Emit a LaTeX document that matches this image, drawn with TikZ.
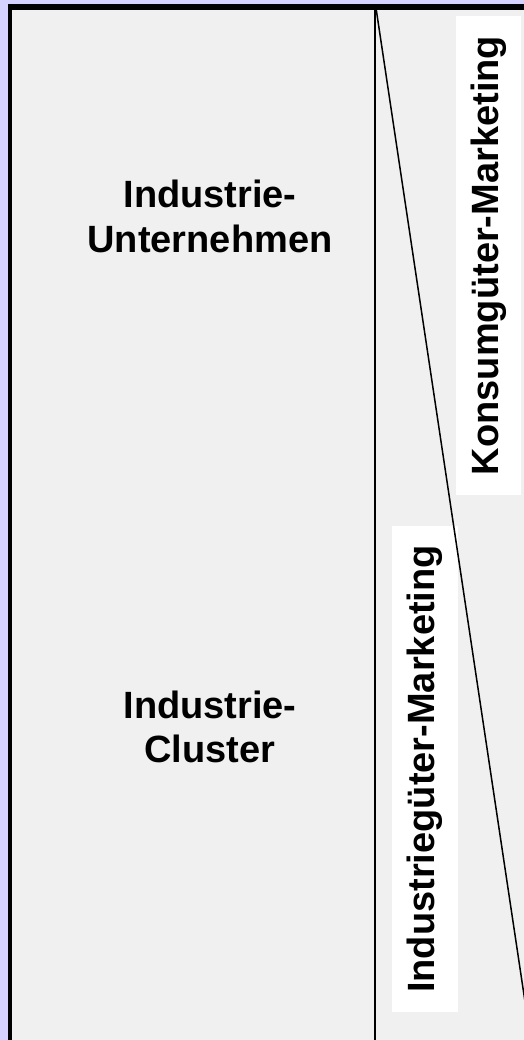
\documentclass[tikz,border=0pt]{standalone}
\usepackage{fontspec}
\setmainfont{Liberation Sans}
\definecolor{bglav}{RGB}{213,210,255}
\definecolor{panelgray}{RGB}{240,240,240}
\begin{document}
\begin{tikzpicture}[x=1pt,y=-1pt,
  lbl/.style={font=\bfseries\fontsize{38}{45}\selectfont, inner sep=0pt, anchor=base},
  vlabel/.style={fill=white, rotate=90, inner sep=0pt, font=\bfseries\fontsize{38}{45}\selectfont},
  rule/.style={line width=1.5pt, black}]
\useasboundingbox (0,0) rectangle (524,1040);
\fill[bglav] (0,0) rectangle (524,1040);
\begin{scope}
  \clip (0,0) rectangle (524,1040);
  \fill[black] (8,4) rectangle (540,1060);
  \fill[panelgray] (12,10) rectangle (540,1060);
  \node[vlabel, minimum width=479pt, minimum height=65pt] (konsum) at (488.5,255.5) {Konsumgüter-Marketing};
  \node[vlabel, minimum width=486pt, minimum height=66pt] (indust) at (425,769) {Industriegüter-Marketing};
  \coordinate (vtop) at (375,8);
  \coordinate (vbot) at (375,1045);
  \coordinate (dtop) at (376,8);
  \coordinate (dbot) at (531.5,1045);
  \draw[rule] (vtop) -- (vbot);
  \draw[rule] (dtop) -- (dbot);
\end{scope}
\node[lbl] (u1) at (210,208) {Industrie-};
\node[lbl] (u2) at (210,253) {Unternehmen};
\node[lbl] (c1) at (210,718) {Industrie-};
\node[lbl] (c2) at (210,762) {Cluster};
\end{tikzpicture}
\end{document}
